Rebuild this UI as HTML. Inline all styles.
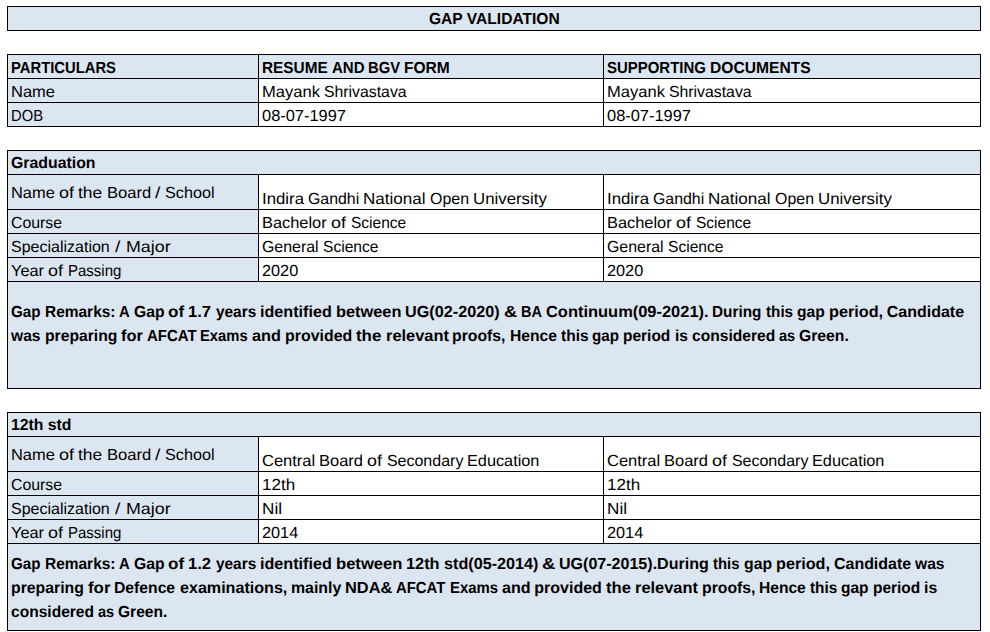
<!DOCTYPE html>
<html lang="en"><head><meta charset="utf-8"><title>Gap Validation</title>
<style>
html,body{margin:0;padding:0;background:#fff;}
body{width:990px;height:632px;position:relative;overflow:hidden;font-family:"Liberation Sans",sans-serif;font-size:16px;color:#000;}
.r{position:absolute;}
.t,.l{position:absolute;white-space:pre;text-rendering:geometricPrecision;line-height:20px;height:20px;}
.l{left:0;width:990px;}
.l span{position:absolute;top:0;transform-origin:0 0;}
.t{transform-origin:0 0;}
.b{font-weight:bold;}
</style></head><body>
<div class="r" style="left:7px;top:6px;width:973px;height:24px;background:#DCE6F1"></div>
<div class="r" style="left:7px;top:54px;width:973px;height:24px;background:#DCE6F1"></div>
<div class="r" style="left:7px;top:78px;width:251px;height:48px;background:#DCE6F1"></div>
<div class="r" style="left:7px;top:150px;width:973px;height:24px;background:#DCE6F1"></div>
<div class="r" style="left:7px;top:174px;width:251px;height:107px;background:#DCE6F1"></div>
<div class="r" style="left:7px;top:281px;width:973px;height:107px;background:#DCE6F1"></div>
<div class="r" style="left:7px;top:412px;width:973px;height:24px;background:#DCE6F1"></div>
<div class="r" style="left:7px;top:436px;width:251px;height:107px;background:#DCE6F1"></div>
<div class="r" style="left:7px;top:543px;width:973px;height:87px;background:#DCE6F1"></div>
<div class="r" style="left:7px;top:6px;width:974px;height:1px;background:#000"></div>
<div class="r" style="left:7px;top:30px;width:974px;height:1px;background:#000"></div>
<div class="r" style="left:7px;top:6px;width:1px;height:25px;background:#000"></div>
<div class="r" style="left:980px;top:6px;width:1px;height:25px;background:#000"></div>
<div class="r" style="left:7px;top:54px;width:974px;height:1px;background:#000"></div>
<div class="r" style="left:7px;top:78px;width:974px;height:1px;background:#000"></div>
<div class="r" style="left:7px;top:102px;width:974px;height:1px;background:#000"></div>
<div class="r" style="left:7px;top:126px;width:974px;height:1px;background:#000"></div>
<div class="r" style="left:7px;top:54px;width:1px;height:73px;background:#000"></div>
<div class="r" style="left:258px;top:54px;width:1px;height:73px;background:#000"></div>
<div class="r" style="left:603px;top:54px;width:1px;height:73px;background:#000"></div>
<div class="r" style="left:980px;top:54px;width:1px;height:73px;background:#000"></div>
<div class="r" style="left:7px;top:150px;width:974px;height:1px;background:#000"></div>
<div class="r" style="left:7px;top:174px;width:974px;height:1px;background:#000"></div>
<div class="r" style="left:7px;top:209px;width:974px;height:1px;background:#000"></div>
<div class="r" style="left:7px;top:233px;width:974px;height:1px;background:#000"></div>
<div class="r" style="left:7px;top:257px;width:974px;height:1px;background:#000"></div>
<div class="r" style="left:7px;top:281px;width:974px;height:1px;background:#000"></div>
<div class="r" style="left:7px;top:388px;width:974px;height:1px;background:#000"></div>
<div class="r" style="left:7px;top:150px;width:1px;height:239px;background:#000"></div>
<div class="r" style="left:980px;top:150px;width:1px;height:239px;background:#000"></div>
<div class="r" style="left:258px;top:174px;width:1px;height:108px;background:#000"></div>
<div class="r" style="left:603px;top:174px;width:1px;height:108px;background:#000"></div>
<div class="r" style="left:7px;top:412px;width:974px;height:1px;background:#000"></div>
<div class="r" style="left:7px;top:436px;width:974px;height:1px;background:#000"></div>
<div class="r" style="left:7px;top:471px;width:974px;height:1px;background:#000"></div>
<div class="r" style="left:7px;top:495px;width:974px;height:1px;background:#000"></div>
<div class="r" style="left:7px;top:519px;width:974px;height:1px;background:#000"></div>
<div class="r" style="left:7px;top:543px;width:974px;height:1px;background:#000"></div>
<div class="r" style="left:7px;top:630px;width:974px;height:1px;background:#000"></div>
<div class="r" style="left:7px;top:412px;width:1px;height:219px;background:#000"></div>
<div class="r" style="left:980px;top:412px;width:1px;height:219px;background:#000"></div>
<div class="r" style="left:258px;top:436px;width:1px;height:108px;background:#000"></div>
<div class="r" style="left:603px;top:436px;width:1px;height:108px;background:#000"></div>
<div class="t u b" style="left:429px;top:10px;transform:scaleX(0.9737);">GAP VALIDATION</div>
<div class="t u b" style="left:11px;top:59px;transform:scaleX(0.9252);">PARTICULARS</div>
<div class="l b" style="top:59px"><span class="u" style="left:262px;transform:scaleX(0.9612);">RESUME</span> <span class="u" style="left:331.8px;transform:scaleX(0.9402);">AND</span> <span class="u" style="left:368.4px;transform:scaleX(0.9229);">BGV</span> <span class="u" style="left:404.4px;transform:scaleX(0.9722);">FORM</span></div>
<div class="l b" style="top:59px"><span class="u" style="left:607px;transform:scaleX(0.9348);">SUPPORTING</span> <span class="u" style="left:709.9px;transform:scaleX(0.9757);">DOCUMENTS</span></div>
<div class="t u" style="left:11px;top:83px;transform:scaleX(1.0307);">Name</div>
<div class="l" style="top:83px"><span class="u" style="left:262px;transform:scaleX(1.0334);">Mayank</span> <span class="u" style="left:323.9px;transform:scaleX(0.9881);">Shrivastava</span></div>
<div class="l" style="top:83px"><span class="u" style="left:607px;transform:scaleX(1.0334);">Mayank</span> <span class="u" style="left:668.9px;transform:scaleX(0.9881);">Shrivastava</span></div>
<div class="t u" style="left:11px;top:107px;transform:scaleX(0.9229);">DOB</div>
<div class="t u" style="left:262px;top:107px;transform:scaleX(1.0263);">08-07-1997</div>
<div class="t u" style="left:607px;top:107px;transform:scaleX(1.0263);">08-07-1997</div>
<div class="t u b" style="left:11px;top:154px;transform:scaleX(0.9901);">Graduation</div>
<div class="l" style="top:184px"><span class="u" style="left:11px;transform:scaleX(1.0261);">Name</span> <span class="u" style="left:58.8px;transform:scaleX(1.1200);">of</span> <span class="u" style="left:78.4px;transform:scaleX(1.0876);">the</span> <span class="u" style="left:106.6px;transform:scaleX(1.0351);">Board</span> <span class="u" style="left:155.378px;transform:scaleX(1.2000);">/</span> <span class="u" style="left:165.3px;transform:scaleX(1.0118);">School</span></div>
<div class="l" style="top:190px"><span class="u" style="left:262px;transform:scaleX(1.0492);">Indira</span> <span class="u" style="left:308px;transform:scaleX(0.9924);">Gandhi</span> <span class="u" style="left:363.2px;transform:scaleX(1.0647);">National</span> <span class="u" style="left:429.7px;transform:scaleX(0.9964);">Open</span> <span class="u" style="left:472.7px;transform:scaleX(1.0508);">University</span></div>
<div class="l" style="top:190px"><span class="u" style="left:607px;transform:scaleX(1.0492);">Indira</span> <span class="u" style="left:653px;transform:scaleX(0.9924);">Gandhi</span> <span class="u" style="left:708.2px;transform:scaleX(1.0647);">National</span> <span class="u" style="left:774.7px;transform:scaleX(0.9964);">Open</span> <span class="u" style="left:817.7px;transform:scaleX(1.0508);">University</span></div>
<div class="t u" style="left:11px;top:214px;transform:scaleX(0.9888);">Course</div>
<div class="l" style="top:214px"><span class="u" style="left:262px;transform:scaleX(1.0244);">Bachelor</span> <span class="u" style="left:330.7px;transform:scaleX(1.1200);">of</span> <span class="u" style="left:350.8px;transform:scaleX(0.9680);">Science</span></div>
<div class="l" style="top:214px"><span class="u" style="left:607px;transform:scaleX(1.0244);">Bachelor</span> <span class="u" style="left:675.7px;transform:scaleX(1.1200);">of</span> <span class="u" style="left:695.8px;transform:scaleX(0.9680);">Science</span></div>
<div class="l" style="top:238px"><span class="u" style="left:11px;">Specialization</span> <span class="u" style="left:114.928px;transform:scaleX(1.2000);">/</span> <span class="u" style="left:125.6px;transform:scaleX(1.1146);">Major</span></div>
<div class="l" style="top:238px"><span class="u" style="left:262px;transform:scaleX(0.9943);">General</span> <span class="u" style="left:322.6px;transform:scaleX(0.9733);">Science</span></div>
<div class="l" style="top:238px"><span class="u" style="left:607px;transform:scaleX(0.9943);">General</span> <span class="u" style="left:667.6px;transform:scaleX(0.9733);">Science</span></div>
<div class="l" style="top:262px"><span class="u" style="left:11px;transform:scaleX(1.0208);">Year</span> <span class="u" style="left:48px;transform:scaleX(1.1200);">of</span> <span class="u" style="left:68px;transform:scaleX(0.9381);">Passing</span></div>
<div class="t u" style="left:262px;top:262px;transform:scaleX(1.0170);">2020</div>
<div class="t u" style="left:607px;top:262px;transform:scaleX(1.0170);">2020</div>
<div class="l b" style="top:303px"><span class="u" style="left:11px;transform:scaleX(0.9478);">Gap</span> <span class="u" style="left:44.5px;transform:scaleX(0.9666);">Remarks:</span> <span class="u" style="left:119px;transform:scaleX(0.9254);">A</span> <span class="u" style="left:133.7px;transform:scaleX(0.9831);">Gap</span> <span class="u" style="left:168.3px;transform:scaleX(1.0656);">of</span> <span class="u" style="left:188.4px;transform:scaleX(1.0382);">1.7</span> <span class="u" style="left:215.5px;transform:scaleX(0.9611);">years</span> <span class="u" style="left:259.7px;transform:scaleX(1.0097);">identified</span> <span class="u" style="left:335.5px;transform:scaleX(1.0216);">between</span> <span class="u" style="left:404.9px;transform:scaleX(1.0131);">UG(02-2020)</span> <span class="u" style="left:503.5px;transform:scaleX(1.1416);">&amp;</span> <span class="u" style="left:520.7px;transform:scaleX(0.9087);">BA</span> <span class="u" style="left:545.7px;transform:scaleX(1.0275);">Continuum(09-2021).</span> <span class="u" style="left:712.3px;transform:scaleX(0.9584);">During</span> <span class="u" style="left:765.7px;transform:scaleX(0.9524);">this</span> <span class="u" style="left:796.8px;transform:scaleX(0.9770);">gap</span> <span class="u" style="left:828.6px;transform:scaleX(1.0142);">period,</span> <span class="u" style="left:886.7px;">Candidate</span></div>
<div class="l b" style="top:327px"><span class="u" style="left:11px;transform:scaleX(0.9752);">was</span> <span class="u" style="left:44.5px;transform:scaleX(0.9797);">preparing</span> <span class="u" style="left:120.8px;transform:scaleX(1.0268);">for</span> <span class="u" style="left:146.7px;transform:scaleX(0.9372);">AFCAT</span> <span class="u" style="left:200.4px;transform:scaleX(0.9245);">Exams</span> <span class="u" style="left:252.1px;transform:scaleX(1.0157);">and</span> <span class="u" style="left:285px;transform:scaleX(0.9946);">provided</span> <span class="u" style="left:356.2px;transform:scaleX(1.0542);">the</span> <span class="u" style="left:385.5px;transform:scaleX(1.0248);">relevant</span> <span class="u" style="left:452.4px;transform:scaleX(0.9849);">proofs,</span> <span class="u" style="left:509.8px;transform:scaleX(0.9785);">Hence</span> <span class="u" style="left:560.8px;transform:scaleX(0.9700);">this</span> <span class="u" style="left:592.4px;transform:scaleX(0.9489);">gap</span> <span class="u" style="left:623.4px;transform:scaleX(0.9675);">period</span> <span class="u" style="left:674.7px;transform:scaleX(0.9667);">is</span> <span class="u" style="left:691.6px;transform:scaleX(0.9747);">considered</span> <span class="u" style="left:778.8px;transform:scaleX(0.9103);">as</span> <span class="u" style="left:799px;transform:scaleX(0.9825);">Green.</span></div>
<div class="t u b" style="left:11px;top:416px;transform:scaleX(0.9862);">12th std</div>
<div class="l" style="top:446px"><span class="u" style="left:11px;transform:scaleX(1.0261);">Name</span> <span class="u" style="left:58.8px;transform:scaleX(1.1200);">of</span> <span class="u" style="left:78.4px;transform:scaleX(1.0876);">the</span> <span class="u" style="left:106.6px;transform:scaleX(1.0351);">Board</span> <span class="u" style="left:155.378px;transform:scaleX(1.2000);">/</span> <span class="u" style="left:165.3px;transform:scaleX(1.0118);">School</span></div>
<div class="l" style="top:452px"><span class="u" style="left:262px;transform:scaleX(1.0314);">Central</span> <span class="u" style="left:319.2px;transform:scaleX(1.0304);">Board</span> <span class="u" style="left:367.2px;transform:scaleX(1.1200);">of</span> <span class="u" style="left:386.9px;">Secondary</span> <span class="u" style="left:467.3px;transform:scaleX(1.0173);">Education</span></div>
<div class="l" style="top:452px"><span class="u" style="left:607px;transform:scaleX(1.0314);">Central</span> <span class="u" style="left:664.2px;transform:scaleX(1.0304);">Board</span> <span class="u" style="left:712.2px;transform:scaleX(1.1200);">of</span> <span class="u" style="left:731.9px;">Secondary</span> <span class="u" style="left:812.3px;transform:scaleX(1.0173);">Education</span></div>
<div class="t u" style="left:11px;top:476px;transform:scaleX(0.9888);">Course</div>
<div class="t u" style="left:262px;top:476px;transform:scaleX(1.0629);">12th</div>
<div class="t u" style="left:607px;top:476px;transform:scaleX(1.0629);">12th</div>
<div class="l" style="top:500px"><span class="u" style="left:11px;">Specialization</span> <span class="u" style="left:114.928px;transform:scaleX(1.2000);">/</span> <span class="u" style="left:125.6px;transform:scaleX(1.1146);">Major</span></div>
<div class="t u" style="left:262px;top:500px;transform:scaleX(1.0711);">Nil</div>
<div class="t u" style="left:607px;top:500px;transform:scaleX(1.0711);">Nil</div>
<div class="l" style="top:524px"><span class="u" style="left:11px;transform:scaleX(1.0208);">Year</span> <span class="u" style="left:48px;transform:scaleX(1.1200);">of</span> <span class="u" style="left:68px;transform:scaleX(0.9381);">Passing</span></div>
<div class="t u" style="left:262px;top:524px;transform:scaleX(1.0170);">2014</div>
<div class="t u" style="left:607px;top:524px;transform:scaleX(1.0170);">2014</div>
<div class="l b" style="top:555px"><span class="u" style="left:11px;transform:scaleX(0.9478);">Gap</span> <span class="u" style="left:44.5px;transform:scaleX(0.9666);">Remarks:</span> <span class="u" style="left:119px;transform:scaleX(0.9254);">A</span> <span class="u" style="left:133.7px;transform:scaleX(0.9831);">Gap</span> <span class="u" style="left:168.3px;transform:scaleX(1.0656);">of</span> <span class="u" style="left:188.4px;transform:scaleX(1.0382);">1.2</span> <span class="u" style="left:215.5px;transform:scaleX(0.9611);">years</span> <span class="u" style="left:259.7px;transform:scaleX(1.0097);">identified</span> <span class="u" style="left:335.5px;transform:scaleX(1.0372);">between</span> <span class="u" style="left:405.9px;transform:scaleX(1.0211);">12th</span> <span class="u" style="left:443.5px;transform:scaleX(1.0110);">std(05-2014)</span> <span class="u" style="left:541.9px;transform:scaleX(1.1589);">&amp;</span> <span class="u" style="left:559.3px;transform:scaleX(1.0028);">UG(07-2015).During</span> <span class="u" style="left:713.1px;transform:scaleX(0.9278);">this</span> <span class="u" style="left:743.5px;transform:scaleX(0.9876);">gap</span> <span class="u" style="left:775.6px;transform:scaleX(1.0123);">period,</span> <span class="u" style="left:833.6px;transform:scaleX(0.9968);">Candidate</span> <span class="u" style="left:914.7px;transform:scaleX(0.9752);">was</span></div>
<div class="l b" style="top:579px"><span class="u" style="left:11px;transform:scaleX(0.9878);">preparing</span> <span class="u" style="left:87.9px;transform:scaleX(1.0549);">for</span> <span class="u" style="left:114.4px;transform:scaleX(0.9815);">Defence</span> <span class="u" style="left:179.5px;transform:scaleX(1.0056);">examinations,</span> <span class="u" style="left:290.8px;transform:scaleX(0.9924);">mainly</span> <span class="u" style="left:345.1px;transform:scaleX(1.0234);">NDA&amp;</span> <span class="u" style="left:396.4px;transform:scaleX(0.9278);">AFCAT</span> <span class="u" style="left:449.6px;transform:scaleX(0.9323);">Exams</span> <span class="u" style="left:501.7px;transform:scaleX(1.0052);">and</span> <span class="u" style="left:534.3px;">provided</span> <span class="u" style="left:605.8px;transform:scaleX(1.0417);">the</span> <span class="u" style="left:634.8px;transform:scaleX(1.0248);">relevant</span> <span class="u" style="left:701.7px;transform:scaleX(0.9849);">proofs,</span> <span class="u" style="left:759.1px;transform:scaleX(0.9744);">Hence</span> <span class="u" style="left:809.9px;transform:scaleX(0.9595);">this</span> <span class="u" style="left:841.2px;transform:scaleX(0.9700);">gap</span> <span class="u" style="left:872.8px;transform:scaleX(0.9654);">period</span> <span class="u" style="left:924px;transform:scaleX(0.9892);">is</span></div>
<div class="l b" style="top:603px"><span class="u" style="left:11px;transform:scaleX(0.9724);">considered</span> <span class="u" style="left:98px;transform:scaleX(0.9103);">as</span> <span class="u" style="left:118.2px;transform:scaleX(0.9726);">Green.</span></div>
</body></html>
